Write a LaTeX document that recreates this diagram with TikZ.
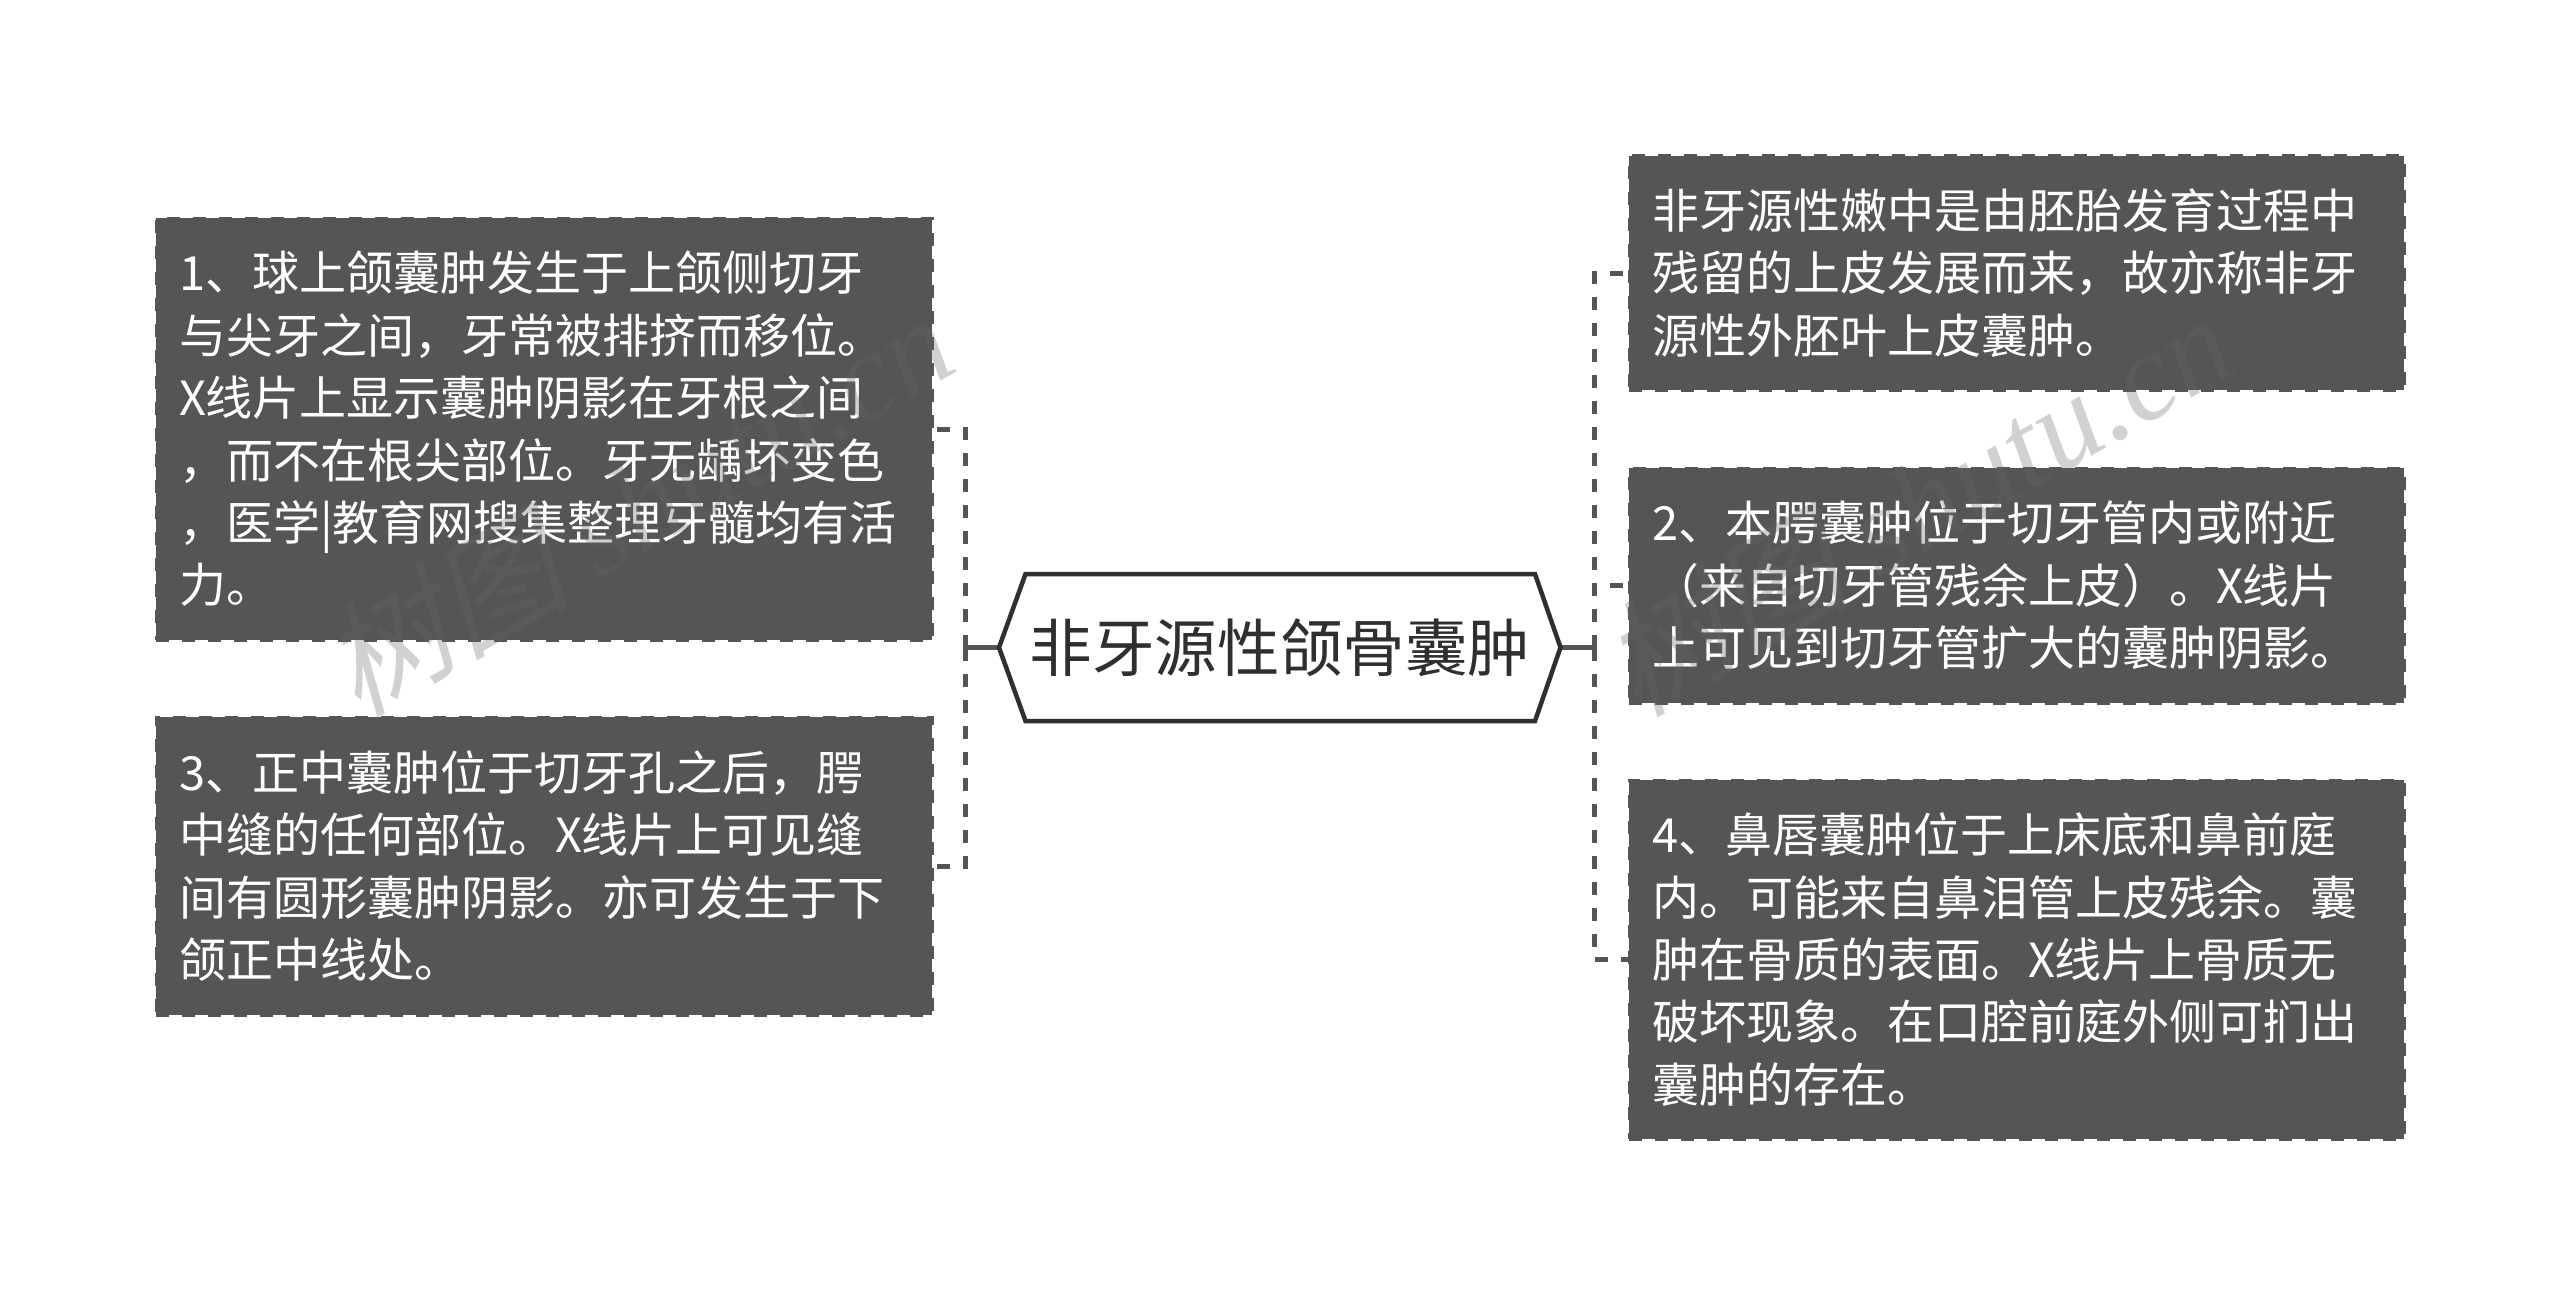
\documentclass[tikz,border=0pt]{standalone}
\usepackage{fontspec}
\setmainfont{Noto Sans CJK SC}
\newfontfamily\wmcjk[FakeSlant=0.25]{Noto Sans CJK SC}
\newfontfamily\wmlat{Liberation Serif}
\newcommand\bodyfont{\fontsize{47}{62.4}\selectfont}
\newcommand\titlefont{\fontsize{62.6}{70}\selectfont}
\newcommand\markfont{\fontsize{125}{133}\selectfont}
\newcommand\marktext{{\wmcjk 树图} {\wmlat\itshape shutu.cn}}
\definecolor{boxgrey}{HTML}{555555}
\definecolor{linkgrey}{HTML}{555555}
\definecolor{inkdark}{HTML}{2F2F2F}
\definecolor{markgrey}{HTML}{666666}
\tikzset{
  x=1pt,y=-1pt,
  notebox/.style={rectangle,draw=boxgrey,fill=boxgrey,line width=3pt,dash pattern=on 13pt off 13pt,
    text=white,font=\bodyfont,align=left,anchor=north west,inner xsep=23pt,inner ysep=0pt,outer sep=0pt},
  titlebox/.style={rectangle,inner sep=0pt,outer sep=0pt,text=inkdark,font=\titlefont,anchor=center},
  hexline/.style={draw=inkdark,fill=white,line width=4.5pt,miter limit=10},
  trunk/.style={draw=linkgrey,line width=4.5pt},
  dashlink/.style={draw=linkgrey,line width=5pt,dash pattern=on 13pt off 13pt},
  markstyle/.style={rotate=30,text=markgrey,text opacity=.3,font=\markfont,inner sep=0pt}
}
\newcommand\notenode[6]{\node[notebox,minimum width=#4pt,minimum height=#5pt,text width=#4pt-46pt] (#1) at (#2,#3) {#6};}
\begin{document}
\begin{tikzpicture}
\useasboundingbox (0,0) rectangle (2560,1295);
% junctions and hexagon corners
\coordinate (hl) at (999,647.5);
\coordinate (hr) at (1560.5,647.5);
\coordinate (hnw) at (1025.5,574);
\coordinate (hne) at (1535,574);
\coordinate (hse) at (1535,721);
\coordinate (hsw) at (1025.5,721);
\coordinate (tl) at (965.5,647.5);
\coordinate (tr) at (1594.5,647.5);
\coordinate (cl1) at (965.5,429);
\coordinate (cl2) at (965.5,866);
\coordinate (cr1) at (1594.5,273);
\coordinate (cr2) at (1594.5,585);
\coordinate (cr3) at (1594.5,959.5);
% connectors
\draw[trunk] (hl) -- (tl);
\draw[trunk] (hr) -- (tr);
\draw[dashlink] (tl) -- (cl1) -- (932,429);
\draw[dashlink] (tl) -- (cl2) -- (932,866);
\draw[dashlink] (tr) -- (cr1) -- (1629,273);
\draw[dashlink] (tr) -- (cr2) -- (1629,585);
\draw[dashlink] (tr) -- (cr3) -- (1629,959.5);
% boxes
\notenode{l1}{156}{218}{776}{422}{1、球上颌囊肿发生于上颌侧切牙\\与尖牙之间，牙常被排挤而移位。\\X线片上显示囊肿阴影在牙根之间\\，而不在根尖部位。牙无龋坏变色\\，医学|教育网搜集整理牙髓均有活\\力。}
\notenode{l2}{156}{717}{776}{298}{3、正中囊肿位于切牙孔之后，腭\\中缝的任何部位。X线片上可见缝\\间有圆形囊肿阴影。亦可发生于下\\颌正中线处。}
\notenode{r1}{1629}{156}{775}{234}{非牙源性嫩中是由胚胎发育过程中\\残留的上皮发展而来，故亦称非牙\\源性外胚叶上皮囊肿。}
\notenode{r2}{1629}{468}{775}{235}{2、本腭囊肿位于切牙管内或附近\\（来自切牙管残余上皮）。X线片\\上可见到切牙管扩大的囊肿阴影。}
\notenode{r3}{1629}{780}{775}{359}{4、鼻唇囊肿位于上床底和鼻前庭\\内。可能来自鼻泪管上皮残余。囊\\肿在骨质的表面。X线片上骨质无\\破坏现象。在口腔前庭外侧可扪出\\囊肿的存在。}
% central hexagon
\draw[hexline] (hl) -- (hnw) -- (hne) -- (hr) -- (hse) -- (hsw) -- cycle;
\node[titlebox] (title) at (1280,647.5) {非牙源性颌骨囊肿};
% watermarks
\node[markstyle] (wm1) at (636,503) {\marktext};
\node[markstyle] (wm2) at (1916,503) {\marktext};
\end{tikzpicture}
\end{document}
